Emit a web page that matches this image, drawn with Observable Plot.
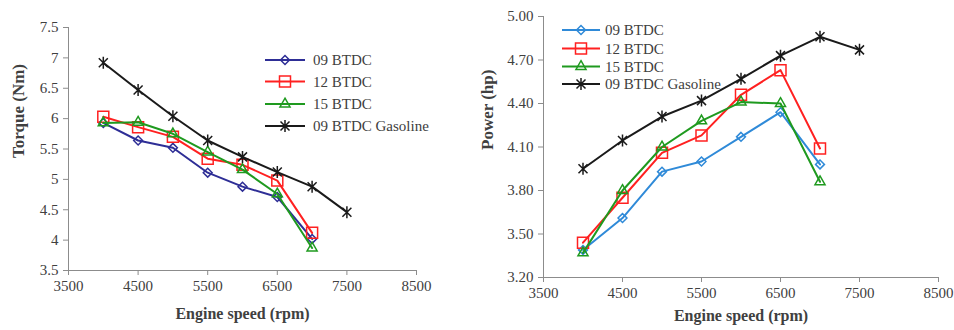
<!DOCTYPE html>
<html><head><meta charset="utf-8">
<script src="https://cdn.jsdelivr.net/npm/d3@7"></script>
<script src="https://cdn.jsdelivr.net/npm/@observablehq/plot@0.6"></script>
<style>
body{margin:0;background:#fff;font-family:"Liberation Serif",serif;}
#wrap{display:flex;width:954px;height:330px;}
.panel{position:relative;width:477px;height:330px;}
.legend{position:absolute;left:0;top:0;pointer-events:none;}
</style></head>
<body><div id="wrap"><div class="panel" id="p1"></div><div class="panel" id="p2"></div></div>
<script>
// ---- data ----
const rpm = [4000, 4500, 5000, 5500, 6000, 6500, 7000];
const rpmGas = [4000, 4500, 5000, 5500, 6000, 6500, 7000, 7500];
const seriesNames = ["09 BTDC", "12 BTDC", "15 BTDC", "09 BTDC Gasoline"];
const torque09 = [5.93, 5.64, 5.52, 5.11, 4.88, 4.71, 4.02];
const torque12 = [6.03, 5.86, 5.70, 5.34, 5.24, 4.98, 4.12];
const torque15 = [5.93, 5.94, 5.75, 5.45, 5.16, 4.76, 3.87];
const torqueGas = [6.92, 6.47, 6.04, 5.64, 5.37, 5.12, 4.88, 4.46];
const power09 = [3.39, 3.61, 3.93, 4.00, 4.17, 4.34, 3.98];
const power12 = [3.44, 3.75, 4.06, 4.18, 4.46, 4.63, 4.09];
const power15 = [3.37, 3.80, 4.10, 4.28, 4.41, 4.40, 3.86];
const powerGas = [3.95, 4.145, 4.31, 4.42, 4.57, 4.73, 4.86, 4.77];
const xTicks = [3500, 4500, 5500, 6500, 7500, 8500];
const torqueTicks = [3.5, 4, 4.5, 5, 5.5, 6, 6.5, 7, 7.5];
const powerTicks = [3.2, 3.5, 3.8, 4.1, 4.4, 4.7, 5.0];

// ---- symbols ----
const asterisk = {draw(ctx, size){const r = Math.sqrt(size/Math.PI); const d = r*0.75;
  ctx.moveTo(-d,-d); ctx.lineTo(d,d); ctx.moveTo(-d,d); ctx.lineTo(d,-d); ctx.moveTo(0,-r); ctx.lineTo(0,r);}};
const symbols = [d3.symbolDiamond2, d3.symbolSquare2, d3.symbolTriangle2, asterisk];
const radii = [4, 7, 4.8, 6];

const axisGray = "#8c8c8c", textCol = "#404040";

function panel(el, cfg){
  const marks = [
    Plot.ruleX([cfg.xDomain[0]], {stroke: axisGray}),
    Plot.ruleY([cfg.yDomain[0]], {stroke: axisGray}),
    Plot.axisX({ticks: xTicks, tickSize: 5, tickPadding: 5, tickFormat: d => String(d), label: null, stroke: axisGray, fill: textCol, fontSize: 15}),
    Plot.axisY({ticks: cfg.yTicks, tickSize: 5, tickPadding: 5, tickFormat: cfg.yFormat, label: null, stroke: axisGray, fill: textCol, fontSize: 15}),
    Plot.text([cfg.xLabel], {frameAnchor: "bottom", dy: cfg.xLabelDy, fontWeight: "bold", fontSize: 16, fill: textCol, text: d => d}),
    Plot.text([cfg.yLabel], {frameAnchor: "left", dx: -cfg.yLabelDx, dy: cfg.yLabelDy, rotate: -90, fontWeight: "bold", fontSize: 17, fill: textCol, text: d => d})
  ];
  cfg.series.forEach((s, i) => {
    const xs = i === 3 ? rpmGas : rpm;
    const data = xs.map((x, j) => ({x, y: s[j]}));
    marks.push(Plot.line(data, {x: "x", y: "y", stroke: cfg.colors[i], strokeWidth: 2}));
    marks.push(Plot.dot(data, {x: "x", y: "y", symbol: symbols[i], r: radii[i], stroke: cfg.colors[i], strokeWidth: 1.5, fill: "none"}));
  });
  const chart = Plot.plot({
    width: 477, height: 330,
    marginLeft: cfg.m[0], marginTop: cfg.m[1], marginRight: cfg.m[2], marginBottom: cfg.m[3],
    x: {domain: cfg.xDomain}, y: {domain: cfg.yDomain},
    style: {fontFamily: "Liberation Serif, serif", fontSize: "15px", color: textCol, background: "white"},
    marks
  });
  el.appendChild(chart);
  // legend
  const svg = d3.select(el).append("svg").attr("class", "legend").attr("width", 477).attr("height", 330);
  seriesNames.forEach((name, i) => {
    const y = cfg.legY[i];
    const g = svg.append("g");
    g.append("line").attr("x1", cfg.legX[0]).attr("x2", cfg.legX[1]).attr("y1", y).attr("y2", y)
      .attr("stroke", cfg.colors[i]).attr("stroke-width", 2);
    g.append("path").attr("d", d3.symbol(symbols[i], radii[i]*radii[i]*Math.PI)())
      .attr("transform", `translate(${(cfg.legX[0]+cfg.legX[1])/2},${y})`)
      .attr("fill", "none").attr("stroke", cfg.colors[i]).attr("stroke-width", 1.5);
    g.append("text").attr("x", cfg.legX[2]).attr("y", y).attr("dy", "0.35em")
      .attr("font-family", "Liberation Serif, serif").attr("font-size", 15).attr("fill", textCol).text(name);
  });
}

panel(document.getElementById("p1"), {
  xDomain: [3500, 8500], yDomain: [3.5, 7.5], yTicks: torqueTicks, yFormat: d => String(d),
  m: [68, 27, 61, 60], series: [torque09, torque12, torque15, torqueGas],
  colors: ["#2e2e96", "#ff2020", "#1f9a1f", "#1a1a1a"],
  xLabel: "Engine speed (rpm)", xLabelDy: 48, yLabel: "Torque (Nm)", yLabelDx: 50, yLabelDy: 9,
  legX: [265, 305, 313], legY: [60, 81.5, 104, 126]
});
panel(document.getElementById("p2"), {
  xDomain: [3500, 8500], yDomain: [3.2, 5.0], yTicks: powerTicks, yFormat: d => d.toFixed(2),
  m: [66, 16, 16, 53], series: [power09, power12, power15, powerGas],
  colors: ["#2f8ad8", "#ff2020", "#1f9a1f", "#1a1a1a"],
  xLabel: "Engine speed (rpm)", xLabelDy: 43, yLabel: "Power (hp)", yLabelDx: 56, yLabelDy: 3,
  legX: [85, 123, 128], legY: [30, 48.5, 66.5, 84]
});
</script></body></html>
